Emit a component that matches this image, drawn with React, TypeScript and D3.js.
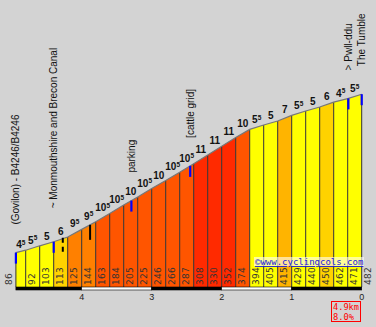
import React from "react";
import * as d3 from "d3";

const kmMarks = [4.94, 4.8, 4.6, 4.4, 4.2, 4.0, 3.8, 3.6, 3.4, 3.2, 3.0, 2.8, 2.6, 2.4, 2.2, 2.0, 1.8, 1.6, 1.4, 1.2, 1.0, 0.8, 0.6, 0.4, 0.2, 0];
const altitudes = [86, 92, 103, 113, 125, 144, 163, 184, 205, 225, 246, 266, 287, 308, 330, 352, 374, 394, 405, 415, 429, 440, 450, 462, 471, 482];
const gradients = [4.5, 5.5, 5, 6, 9.5, 9.5, 10.5, 10.5, 10, 10.5, 10, 10.5, 10.5, 11, 11, 11, 10, 5.5, 5, 7, 5.5, 5, 6, 4.5, 5.5];
const kmTicks = [4, 3, 2, 1, 0];
const pois = [
  { km: 4.94, label: "(Govilon) - B4246/B4246", kind: "blue" },
  { km: 4.4, label: "\u00a0\u00a0~ Monmouthshire and Brecon Canal", kind: "blue" },
  { km: 4.27, label: "", kind: "dashed" },
  { km: 3.88, label: "", kind: "black" },
  { km: 3.29, label: "parking", kind: "blue" },
  { km: 2.45, label: "[cattle grid]", kind: "blue" },
  { km: 0.19, label: "> Pwll-ddu", kind: "blue" },
  { km: 0.0, label: "The Tumble", kind: "blue" },
];
const totalLabel = "4.9km";
const avgLabel = "8.0%";
const watermark = "©www.cyclingcols.com";

const W = 376, H = 327;

export default function App() {
  const x = d3.scaleLinear().domain([0, 4.94]).range([361.7, 15.9]);
  const y = d3.scaleLinear().domain([0, 482]).range([287, 94.2]);
  const color = d3
    .scaleThreshold<number, string>()
    .domain([6, 7, 9, 10, 11])
    .range(["#ffff00", "#ffd200", "#ffb400", "#ff8000", "#ff5500", "#ff2a00"]);
  const altAt = d3.scaleLinear().domain(kmMarks).range(altitudes);
  const base = y(0);

  const segs = gradients.map((g, i) => ({
    g,
    x0: x(kmMarks[i]),
    x1: x(kmMarks[i + 1]),
    a0: altitudes[i],
    a1: altitudes[i + 1],
  }));

  const topLine = d3
    .line<number>()
    .x((_, i) => x(kmMarks[i]))
    .y((a) => y(a))(altitudes) as string;

  const stripEdges = [kmMarks[0], ...kmTicks];

  return (
    <svg width={W} height={H} style={{ position: "absolute", left: 0, top: 0, background: "#d3d3d3" }}>
      <rect x={0} y={0} width={W} height={H} fill="#d3d3d3" />
      {segs.map((s, i) => (
        <path
          key={"s" + i}
          d={`M${s.x0},${base}L${s.x0},${y(s.a0)}L${s.x1},${y(s.a1)}L${s.x1},${base}Z`}
          fill={color(s.g)}
        />
      ))}
      {kmMarks.map((k, i) => (
        <line key={"v" + i} x1={x(k)} x2={x(k)} y1={y(altitudes[i])} y2={base} stroke="#333" strokeWidth={1} />
      ))}
      <path d={topLine} fill="none" stroke="#777" strokeWidth={1.2} />
      {altitudes.map((a, i) => {
        const xx = i === 0 ? x(kmMarks[0]) - 7 : x(kmMarks[i]) + 6;
        return (
          <text
            key={"a" + i}
            transform={`translate(${xx},285) rotate(-90)`}
            dy="0.35em"
            fontFamily="DejaVu Sans, Verdana, sans-serif"
            fontSize={9}
            fill="#333"
            letterSpacing={0.3}
          >
            {a}
          </text>
        );
      })}
      <rect x={254} y={257} width={110} height={9} fill="#ffffff" opacity={0.6} />
      <text x={255} y={265} fontFamily="DejaVu Sans Mono, monospace" fontSize={9} fill="#1a1adc" textDecoration="underline">
        {watermark}
      </text>
      {stripEdges.slice(0, -1).map((k, i) => (
        <rect
          key={"b" + i}
          x={x(k)}
          y={287}
          width={x(stripEdges[i + 1]) - x(k)}
          height={3}
          fill={i % 2 === 0 ? "#000" : "#fff"}
          stroke="#000"
          strokeWidth={0.6}
        />
      ))}
      {kmTicks.map((k) => (
        <text key={"k" + k} x={x(k)} y={300} textAnchor="middle" fontFamily="Arial, Liberation Sans, sans-serif" fontSize={9} fill="#222">
          {k}
        </text>
      ))}
      {segs.map((s, i) => {
        const whole = Math.floor(s.g);
        const half = s.g - whole > 0;
        return (
          <text
            key={"g" + i}
            x={(s.x0 + s.x1) / 2}
            y={y(Math.max(s.a0, s.a1)) - 2}
            textAnchor="middle"
            fontFamily="Arial, Liberation Sans, sans-serif"
            fontWeight="bold"
            fontSize={10}
            fill="#111"
          >
            {whole}
            {half && (
              <tspan fontSize={6.5} dy={-3.5}>
                5
              </tspan>
            )}
          </text>
        );
      })}
      {pois.map((p, i) => {
        const px = x(p.km);
        const py = y(altAt(p.km));
        return (
          <g key={"p" + i}>
            {p.kind === "blue" && <line x1={px} x2={px} y1={py} y2={py + 11} stroke="#0000ff" strokeWidth={2.2} />}
            {p.kind === "black" && <line x1={px} x2={px} y1={py} y2={py + 15} stroke="#000" strokeWidth={2} />}
            {p.kind === "dashed" && (
              <line x1={px} x2={px} y1={py - 1} y2={py + 14} stroke="#000" strokeWidth={2} strokeDasharray="5,4" />
            )}
            {p.label && (
              <text
                transform={`translate(${px},${py - 28}) rotate(-90)`}
                dy="0.35em"
                fontFamily="Arial, Liberation Sans, sans-serif"
                fontSize={10}
                fill="#111"
                style={{ whiteSpace: "pre" }}
              >
                {p.label}
              </text>
            )}
          </g>
        );
      })}
      <rect x={331.5} y={301.5} width={29} height={20} fill="none" stroke="#ff0000" strokeWidth={1} />
      <text x={333} y={310} fontFamily="DejaVu Sans Mono, monospace" fontSize={8.5} fill="#ff0000" textLength={26} lengthAdjust="spacingAndGlyphs">
        {totalLabel}
      </text>
      <text x={333} y={319.5} fontFamily="DejaVu Sans Mono, monospace" fontSize={8.5} fill="#ff0000" textLength={21} lengthAdjust="spacingAndGlyphs">
        {avgLabel}
      </text>
    </svg>
  );
}
